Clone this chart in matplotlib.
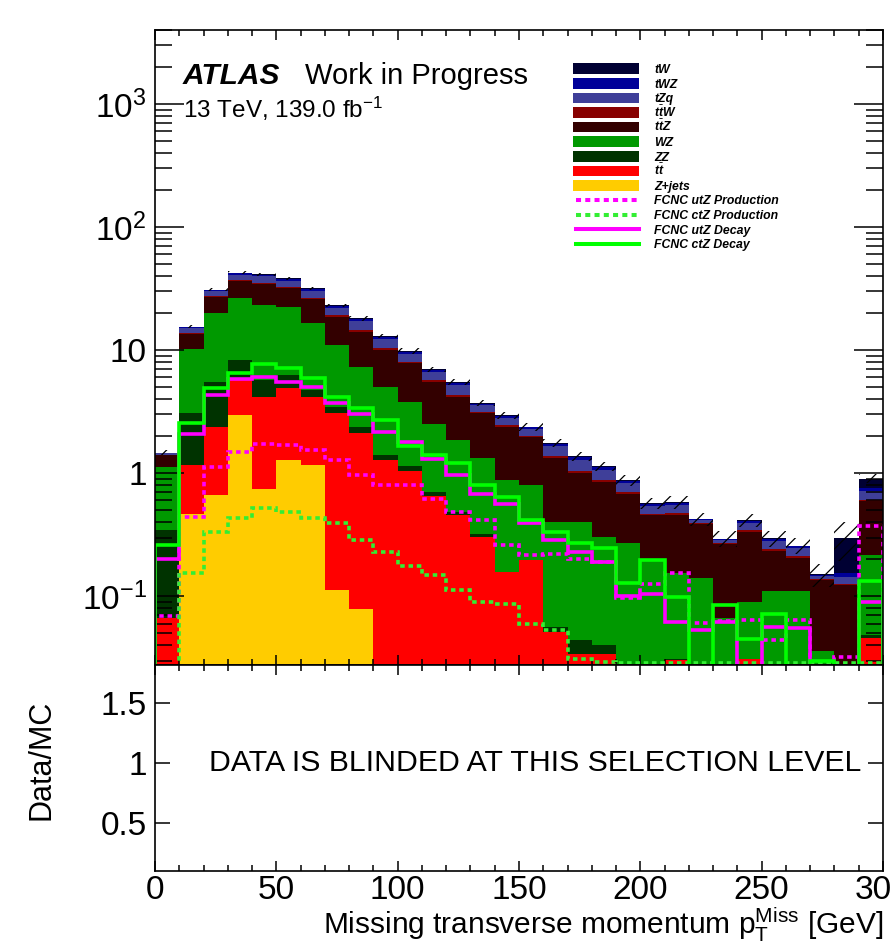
import numpy as np
import matplotlib.pyplot as plt
from matplotlib.patches import Rectangle
from matplotlib.lines import Line2D
from matplotlib.ticker import FixedLocator, MultipleLocator, FuncFormatter, LogLocator, NullFormatter

plt.rcParams['font.family'] = ['Liberation Sans', 'DejaVu Sans']
plt.rcParams['mathtext.fontset'] = 'custom'
plt.rcParams['mathtext.rm'] = 'Liberation Sans'
plt.rcParams['mathtext.it'] = 'Liberation Sans:italic:bold'
plt.rcParams['mathtext.bf'] = 'Liberation Sans:bold'
plt.rcParams['hatch.linewidth'] = 0.9

# 10 GeV bins from 0 to 300 GeV
edges = np.arange(0, 310, 10)

# background processes, events per bin
zjets = [0, 0.47, 0.66, 2.96, 0.74, 1.29, 1.16, 0.113, 0.079, 0, 0, 0, 0, 0, 0,
         0, 0, 0, 0, 0, 0, 0, 0, 0, 0, 0, 0, 0, 0, 0]
ttbar = [0.066, 0.69, 1.72, 2.93, 3.43, 3.59, 3.01, 2.95, 2.05, 1.29, 1.05, 0.65, 0.455, 0.30, 0.158,
         0.196, 0.051, 0.034, 0.034, 0.008, 0.007, 0.030, 0.010, 0.008, 0.031, 0.005, 0.005, 0.006, 0.005, 0.046]
zz = [0.278, 1.93, 3.14, 2.41, 1.53, 1.38, 0.56, 0.40, 0.25, 0.11, 0.10, 0.055, 0.03, 0.023, 0.0,
      0.0, 0.005, 0.010, 0.006, 0.002, 0.003, 0.001, 0.0, 0.0, 0.0, 0.0, 0.0, 0.0, 0.0, 0.002]
wz = [0.776, 7.21, 14.38, 18.0, 17.5, 16.24, 11.77, 7.54, 4.94, 3.63, 2.65, 1.795, 1.365, 0.997, 0.722,
      0.604, 0.344, 0.356, 0.26, 0.26, 0.19, 0.122, 0.13, 0.058, 0.059, 0.105, 0.105, 0.030, 0.020, 0.168]
ttz = [0.28, 3.2, 7.2, 10.3, 11.2, 9.2, 9.3, 7.7, 6.78, 5.07, 3.99, 3.02, 2.32, 1.74, 1.50,
       1.17, 0.92, 0.60, 0.55, 0.41, 0.255, 0.302, 0.246, 0.20, 0.243, 0.122, 0.095, 0.099, 0.098, 0.374]
ttw = [0.008, 0.24, 0.48, 0.71, 0.85, 0.79, 0.71, 0.54, 0.48, 0.35, 0.25, 0.17, 0.16, 0.08, 0.07,
       0.05, 0.053, 0.044, 0.035, 0.024, 0.013, 0.016, 0.005, 0.003, 0.010, 0.008, 0.006, 0.002, 0.002, 0.010]
tzq = [0.045, 1.28, 2.56, 3.78, 4.54, 4.22, 3.78, 2.88, 2.56, 1.86, 1.33, 0.93, 0.86, 0.42, 0.37,
       0.26, 0.28, 0.237, 0.186, 0.128, 0.072, 0.083, 0.024, 0.017, 0.052, 0.040, 0.034, 0.010, 0.018, 0.110]
twz = [0.013, 0.36, 0.72, 1.06, 1.28, 1.19, 1.06, 0.81, 0.72, 0.52, 0.37, 0.26, 0.24, 0.12, 0.10,
       0.074, 0.079, 0.067, 0.052, 0.036, 0.020, 0.023, 0.007, 0.005, 0.015, 0.011, 0.010, 0.003, 0.012, 0.050]
tw = [0.004, 0.12, 0.24, 0.35, 0.43, 0.40, 0.35, 0.27, 0.24, 0.17, 0.12, 0.09, 0.08, 0.04, 0.035,
      0.025, 0.026, 0.022, 0.017, 0.012, 0.007, 0.008, 0.002, 0.002, 0.005, 0.004, 0.003, 0.001, 0.14, 0.145]

# relative uncertainty of the total background (hatched band)
rel_unc = [0.05, 0.03, 0.03, 0.03, 0.03, 0.03, 0.03, 0.03, 0.04, 0.04, 0.05, 0.05, 0.06, 0.06, 0.07,
           0.07, 0.08, 0.08, 0.09, 0.10, 0.10, 0.12, 0.12, 0.15, 0.12, 0.15, 0.15, 0.22, 0.35, 0.08]

# FCNC signals
utz_prod = [0.069, 0.44, 1.12, 1.49, 1.74, 1.69, 1.54, 1.28, 0.96, 0.80, 0.80, 0.62, 0.485, 0.415, 0.26,
            0.216, 0.222, 0.20, 0.19, 0.096, 0.125, 0.153, 0.061, 0.063, 0.064, 0.044, 0.064, 0.02, 0.032, 0.37]
ctz_prod = [0.02, 0.153, 0.333, 0.43, 0.52, 0.485, 0.43, 0.39, 0.285, 0.229, 0.176, 0.148, 0.113, 0.090, 0.086,
            0.060, 0.053, 0.031, 0.029, 0.0285, 0.0285, 0.0285, 0.0285, 0.0285, 0.0285, 0.0285, 0.0285, 0.0285, 0.0285, 0.0285]
utz_decay = [0.199, 2.10, 4.31, 5.81, 6.07, 5.52, 5.03, 3.69, 3.02, 2.15, 1.80, 1.30, 0.96, 0.68, 0.56,
             0.39, 0.285, 0.229, 0.19, 0.10, 0.105, 0.062, 0.053, 0.062, 0.02, 0.056, 0.055, 0.02, 0.02, 0.090]
ctz_decay = [0.26, 2.54, 4.88, 6.46, 7.65, 7.10, 5.89, 4.17, 3.36, 2.70, 1.65, 1.40, 1.20, 0.80, 0.64,
             0.42, 0.33, 0.27, 0.245, 0.127, 0.196, 0.098, 0.02, 0.085, 0.045, 0.072, 0.02, 0.030, 0.02, 0.133]

layers = [
    (zjets, '#ffcc00', 'Z+jets'),
    (ttbar, '#ff0000', r'$t\bar{t}$'),
    (zz, '#003300', 'ZZ'),
    (wz, '#009900', 'WZ'),
    (ttz, '#330000', r'$t\bar{t}Z$'),
    (ttw, '#880000', r'$t\bar{t}W$'),
    (tzq, '#3f3f99', 'tZq'),
    (twz, '#000099', 'tWZ'),
    (tw, '#000033', 'tW'),
]

W, H = 891, 943
fig = plt.figure(figsize=(W / 100, H / 100), dpi=100)
ax = fig.add_axes([155 / W, 1 - 665 / H, 728 / W, 635 / H])
ax2 = fig.add_axes([155 / W, 1 - 871 / H, 728 / W, 206 / H])

# stacked backgrounds
base = np.full(len(edges) - 1, 1e-4)
for vals, col, lab in layers:
    top = base + np.asarray(vals)
    ax.stairs(top, edges, baseline=base, fill=True, color=col, lw=0, antialiased=False, zorder=1)
    base = top

total = base
unc = total * np.asarray(rel_unc)
ax.stairs(total + unc, edges, baseline=total - unc, fill=True, facecolor='none',
          edgecolor='black', hatch='//', lw=0, zorder=1.5)

line_w = 2.6
dots = (0, (1.25, 1.05))
signals = [
    (utz_prod, '#ff00ff', dots, 'FCNC utZ Production'),
    (ctz_prod, '#33ee33', dots, 'FCNC ctZ Production'),
    (utz_decay, '#ff00ff', '-', 'FCNC utZ Decay'),
    (ctz_decay, '#00ff00', '-', 'FCNC ctZ Decay'),
]
for vals, col, ls, lab in signals:
    ax.stairs(vals, edges, color=col, lw=line_w, linestyle=ls, zorder=2)

ax.set_yscale('log')
ax.set_xlim(0, 300)
ax.set_ylim(0.0276, 4000)


def log_fmt(v, pos):
    e = int(round(np.log10(v)))
    if e == 0:
        return '1'
    if e == 1:
        return '10'
    return r'$\mathregular{10^{%d}}$' % e


ax.yaxis.set_major_locator(FixedLocator([0.1, 1, 10, 100, 1000]))
ax.yaxis.set_major_formatter(FuncFormatter(log_fmt))
ax.yaxis.set_minor_locator(LogLocator(base=10, subs=np.arange(2, 10)))
ax.yaxis.set_minor_formatter(NullFormatter())

for a in (ax, ax2):
    a.xaxis.set_major_locator(MultipleLocator(50))
    a.xaxis.set_minor_locator(MultipleLocator(10))
    a.tick_params(which='both', direction='in', top=True, right=True, labelsize=24, width=1.1)
    a.tick_params(axis='x', which='major', length=7.5, pad=3)
    a.tick_params(axis='x', which='minor', length=4)
    for s in a.spines.values():
        s.set_linewidth(1.2)

ax.tick_params(axis='y', which='major', length=21, pad=6)
ax.tick_params(axis='y', which='minor', length=12)
ax.tick_params(axis='x', labelbottom=False)

ax2.set_xlim(0, 300)
ax2.set_ylim(0.0975, 1.814)
ax2.yaxis.set_major_locator(FixedLocator([0.5, 1, 1.5]))
ax2.yaxis.set_major_formatter(FuncFormatter(lambda v, p: '%g' % v))
ax2.tick_params(axis='y', which='major', length=11, pad=6)
ax2.tick_params(axis='y', which='minor', left=False, right=False)
ax2.text(156.6, 1.0, 'DATA IS BLINDED AT THIS SELECTION LEVEL', ha='center', va='center', fontsize=21.8)

# labels
ax.text(0.0385, 0.915, 'ATLAS', transform=ax.transAxes, fontsize=21.5, weight='bold', style='italic', va='baseline')
ax.text(0.206, 0.915, 'Work in Progress', transform=ax.transAxes, fontsize=21, va='baseline')
ax.text(0.0385, 0.861, r'13 TeV, 139.0 fb$^{-1}$', transform=ax.transAxes, fontsize=17.5, va='baseline')
fig.text(42 / W, 1 - 760 / H, 'Data/MC', rotation=90, ha='center', va='center', fontsize=22)
fig.text(883 / W, 1 - 934 / H, r'Missing transverse momentum p$_{\mathrm{T}}^{\mathrm{Miss}}$ [GeV]',
         ha='right', va='baseline', fontsize=21.5)

# legend, drawn row by row in figure pixels
leg_x0, leg_x1, leg_text_x = 572.7, 639.3, 654.3
row0, row_step, box_h = 68.7, 14.6, 10.7
entries = [(col, None, lab) for vals, col, lab in layers[::-1]]
entries += [(col, ls, lab) for vals, col, ls, lab in signals]
for i, (col, ls, lab) in enumerate(entries):
    yc = row0 + row_step * i
    if ls is None:
        fig.add_artist(Rectangle((leg_x0 / W, 1 - (yc + box_h / 2) / H), (leg_x1 - leg_x0) / W, box_h / H,
                                 transform=fig.transFigure, facecolor=col, edgecolor='none'))
    else:
        fig.add_artist(Line2D([(leg_x0 + 3) / W, leg_x1 / W], [1 - yc / H, 1 - yc / H], transform=fig.transFigure,
                              color=col, lw=2.9, linestyle=ls))
    fig.text(leg_text_x / W, 1 - (yc + 4.3) / H, lab, fontsize=8.8, weight='bold', style='italic', va='baseline')

fig.savefig('out.png', dpi=100)
